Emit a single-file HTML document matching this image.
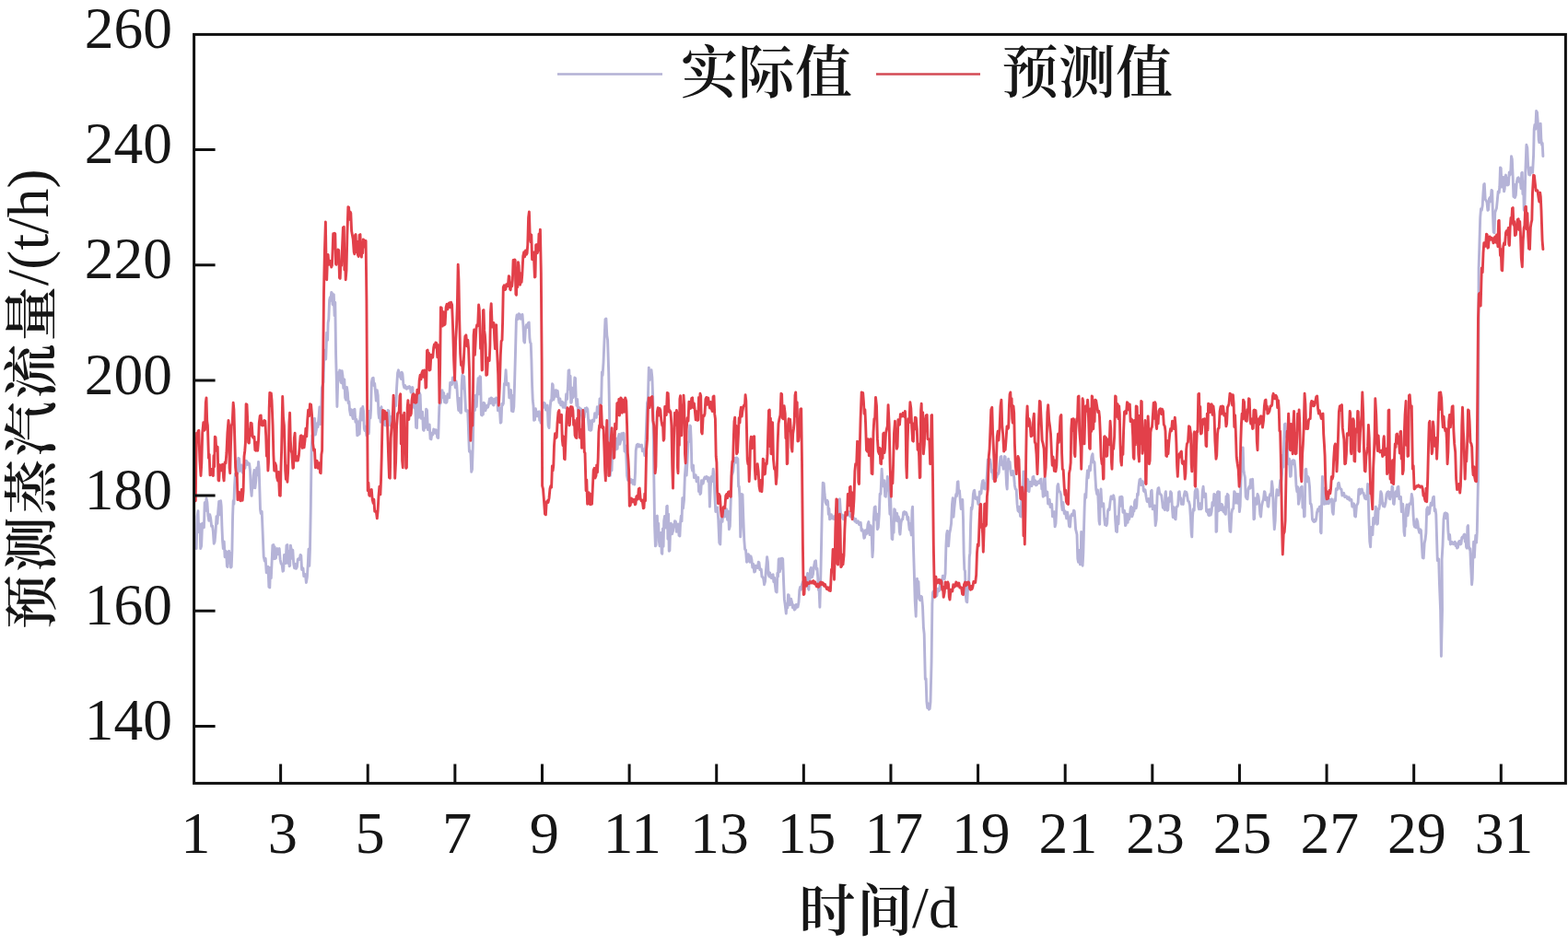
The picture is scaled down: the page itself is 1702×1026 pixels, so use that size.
<!DOCTYPE html>
<html lang="zh-CN">
<head>
<meta charset="utf-8">
<title>预测蒸汽流量</title>
<style>
html,body{margin:0;padding:0;background:#fff;}
body{width:1702px;height:1026px;overflow:hidden;font-family:"Liberation Serif", "Noto Serif CJK SC", serif;}
svg text{font-kerning:normal;}
</style>
</head>
<body>
<svg width="1702" height="1026" viewBox="0 0 1702 1026" style="display:block">
<rect x="0" y="0" width="1702" height="1026" fill="#fff"/>
<path d="M213.1,595.6 L214.1,560.6 L215.0,554.7 L215.7,577.7 L216.4,571.0 L217.1,569.2 L217.7,595.6 L218.6,592.9 L219.6,568.2 L220.5,571.0 L221.4,572.7 L222.2,545.7 L223.1,554.5 L224.0,541.0 L224.9,545.3 L225.9,560.1 L226.8,565.3 L227.8,558.8 L228.7,562.9 L229.6,571.3 L230.6,571.0 L231.4,577.6 L232.2,590.2 L233.1,587.9 L234.1,576.5 L235.0,560.6 L235.9,568.4 L236.8,554.7 L237.7,544.4 L238.7,558.8 L239.6,543.8 L240.2,549.3 L240.9,571.0 L241.6,587.6 L242.3,595.6 L243.2,587.9 L244.1,604.7 L245.0,598.3 L245.7,600.2 L246.4,614.7 L247.1,615.5 L247.9,598.9 L248.6,598.3 L249.2,611.0 L249.9,600.1 L250.5,616.1 L251.2,615.5 L251.9,598.3 L252.6,560.3 L253.2,543.8 L253.9,547.3 L254.6,527.4 L255.4,514.4 L256.2,520.2 L257.1,501.0 L257.9,514.1 L258.7,497.4 L259.6,498.0 L260.5,511.3 L261.4,508.3 L262.3,504.9 L263.2,513.1 L264.1,513.7 L265.0,506.3 L266.0,508.2 L266.9,500.1 L267.8,500.7 L268.7,504.4 L269.6,502.8 L270.6,503.5 L271.5,511.0 L272.3,529.6 L273.1,538.3 L273.8,526.9 L274.4,530.0 L275.1,516.5 L276.0,510.5 L276.9,529.8 L277.8,521.9 L278.7,508.0 L279.6,515.7 L280.5,501.5 L281.2,509.4 L281.9,532.8 L282.5,553.0 L283.2,557.4 L284.2,555.3 L285.2,579.2 L286.2,604.3 L287.3,609.3 L288.2,606.3 L289.2,621.7 L290.1,620.2 L291.0,615.3 L291.9,637.3 L292.8,637.9 L293.5,616.1 L294.3,627.6 L295.0,612.0 L295.9,592.1 L296.9,591.5 L297.5,606.7 L298.2,593.8 L298.8,606.5 L299.5,605.9 L300.3,596.7 L301.0,595.6 L301.7,601.9 L302.5,596.2 L303.2,595.6 L304.1,607.2 L305.1,612.0 L306.1,613.1 L307.0,620.2 L307.7,619.6 L308.5,602.5 L309.2,603.8 L310.1,611.6 L311.0,592.1 L311.9,591.5 L312.6,611.5 L313.4,598.3 L314.1,614.7 L314.7,614.1 L315.4,592.1 L316.0,595.6 L316.9,606.2 L317.8,597.2 L318.7,612.0 L319.6,616.8 L320.6,612.3 L321.5,617.4 L322.4,615.4 L323.3,607.2 L324.2,606.5 L325.1,607.5 L326.1,602.4 L326.8,603.0 L327.6,618.5 L328.3,617.4 L329.0,617.0 L329.8,625.5 L330.5,625.6 L331.4,623.5 L332.4,632.5 L333.4,626.5 L334.3,612.0 L335.0,596.1 L335.8,614.4 L336.5,595.6 L337.3,551.9 L338.1,489.2 L338.9,472.8 L339.8,480.2 L340.6,461.9 L341.5,454.3 L342.4,472.1 L343.3,467.3 L344.2,459.7 L345.1,463.5 L346.0,453.7 L346.9,441.9 L347.8,460.6 L348.7,448.2 L349.4,421.2 L350.1,418.3 L351.0,414.6 L351.9,380.7 L352.8,380.1 L353.7,390.0 L354.7,361.3 L355.6,369.2 L356.1,350.1 L356.8,346.6 L357.6,325.8 L358.3,322.8 L359.0,326.4 L359.7,317.4 L360.3,318.0 L361.0,330.4 L361.6,331.0 L362.3,319.6 L363.1,342.7 L363.8,328.3 L364.6,385.6 L365.2,407.8 L365.9,441.5 L367.0,404.7 L367.9,412.5 L368.7,402.0 L369.3,402.9 L370.0,415.0 L370.6,415.6 L371.2,402.6 L371.9,407.4 L372.8,421.4 L373.8,411.9 L374.7,432.0 L375.6,434.2 L376.5,420.4 L377.4,426.5 L378.1,437.6 L378.9,436.0 L379.6,445.6 L380.5,450.5 L381.4,444.7 L382.3,451.1 L383.2,454.7 L384.1,444.9 L385.0,444.3 L385.9,458.2 L386.9,455.3 L387.8,472.9 L388.6,472.3 L389.4,457.8 L390.2,471.3 L391.0,453.8 L391.9,443.8 L392.9,456.0 L393.8,441.5 L394.5,445.9 L395.3,465.1 L396.0,467.5 L396.9,463.2 L397.9,472.9 L398.7,472.3 L399.5,453.7 L400.4,470.7 L401.2,446.2 L402.0,453.8 L402.6,444.6 L403.3,415.6 L404.2,410.8 L405.2,410.2 L405.9,418.6 L406.7,416.4 L407.4,423.8 L408.3,435.1 L409.3,423.8 L410.2,429.3 L410.9,449.1 L411.5,453.8 L412.3,443.4 L413.1,458.2 L414.0,441.8 L414.8,457.2 L415.6,448.2 L416.5,446.7 L417.4,461.3 L418.3,461.9 L419.2,450.8 L420.2,456.9 L421.1,445.5 L422.0,446.1 L422.9,461.3 L423.8,461.9 L424.6,452.5 L425.4,461.3 L426.3,447.4 L427.1,461.3 L427.9,451.0 L428.8,432.1 L429.7,440.6 L430.6,420.9 L431.6,404.9 L432.5,401.8 L433.2,408.2 L434.0,404.6 L434.7,410.0 L435.4,411.5 L436.2,404.2 L436.9,405.9 L437.9,417.7 L438.8,420.9 L439.7,418.5 L440.6,421.7 L441.5,422.3 L442.4,420.2 L443.4,421.2 L444.3,419.6 L445.2,420.2 L446.1,426.0 L447.0,423.7 L447.9,420.6 L448.8,441.5 L449.7,442.8 L450.6,436.3 L451.6,464.0 L452.5,464.6 L453.4,433.0 L454.3,453.3 L455.2,426.4 L456.1,428.6 L457.0,454.3 L457.9,448.2 L458.6,447.2 L459.4,466.7 L460.1,467.3 L460.9,453.9 L461.8,464.3 L462.6,444.1 L463.5,445.3 L464.4,466.6 L465.3,461.9 L466.2,461.0 L467.1,476.3 L468.0,476.9 L468.9,470.1 L469.8,471.9 L470.7,466.0 L471.4,466.6 L472.2,470.3 L472.9,466.6 L473.7,467.3 L474.7,474.9 L475.7,475.5 L476.8,441.9 L477.8,434.6 L478.5,437.5 L479.3,424.3 L480.0,423.7 L480.8,431.5 L481.6,426.4 L482.5,436.7 L483.3,430.2 L484.1,437.3 L485.0,436.7 L485.9,427.9 L486.8,431.9 L487.7,431.8 L488.7,415.4 L489.6,415.5 L490.6,417.4 L491.5,410.0 L492.6,410.6 L493.6,415.5 L494.3,420.8 L495.1,414.0 L495.8,418.2 L496.8,434.6 L497.7,445.5 L498.6,432.5 L499.6,447.6 L500.5,448.2 L501.1,419.0 L501.8,407.3 L502.7,421.7 L503.7,408.7 L504.6,426.4 L505.6,446.2 L506.7,445.5 L507.7,445.9 L508.7,472.8 L509.4,490.3 L510.0,489.2 L510.9,492.3 L511.7,512.4 L512.5,509.7 L513.3,483.7 L514.4,434.6 L515.5,445.5 L516.4,429.1 L517.3,441.5 L518.2,423.7 L519.1,410.7 L520.0,427.9 L520.9,408.7 L521.6,409.3 L522.4,450.4 L523.1,451.0 L523.7,440.8 L524.4,450.0 L525.0,437.3 L525.9,437.9 L526.9,445.8 L527.8,442.8 L528.7,440.2 L529.6,442.2 L530.5,438.7 L531.4,432.9 L532.3,437.8 L533.2,431.9 L534.1,432.5 L535.0,439.4 L535.9,440.0 L536.8,433.2 L537.8,437.0 L538.7,431.9 L539.6,432.5 L540.5,445.9 L541.4,445.5 L542.3,442.8 L543.3,459.1 L544.0,458.5 L544.8,438.5 L545.5,440.0 L546.4,438.1 L547.3,416.7 L548.2,415.5 L549.1,401.8 L550.0,417.9 L551.0,418.2 L551.9,416.3 L552.8,431.8 L553.7,431.9 L554.5,423.4 L555.4,446.3 L556.2,429.4 L557.0,446.9 L557.8,441.6 L558.6,415.5 L559.7,374.7 L560.4,347.0 L561.1,341.9 L562.2,346.6 L563.2,340.6 L564.1,341.2 L565.1,346.3 L566.0,344.7 L567.0,341.5 L567.9,352.8 L568.7,370.6 L569.5,371.9 L570.5,356.6 L571.4,352.8 L572.3,355.4 L573.3,350.7 L574.2,350.1 L574.9,366.8 L575.5,371.9 L576.2,372.7 L576.9,391.0 L577.6,418.1 L578.3,434.7 L579.0,440.6 L579.6,456.4 L580.5,455.8 L581.4,443.8 L582.3,448.2 L583.2,451.9 L584.2,447.5 L585.1,446.9 L585.7,456.3 L586.4,451.6 L587.0,459.1 L587.7,457.0 L588.5,442.5 L589.2,442.8 L589.9,442.1 L590.5,437.3 L591.4,437.9 L592.4,445.1 L593.3,441.4 L594.2,440.0 L595.1,462.0 L596.0,464.6 L597.0,444.3 L597.9,434.6 L598.7,435.0 L599.5,416.8 L600.2,418.0 L600.8,434.0 L601.5,431.9 L602.5,424.0 L603.6,423.7 L604.4,430.6 L605.3,424.4 L606.1,431.9 L607.0,437.2 L607.9,433.0 L608.7,439.9 L609.6,440.0 L610.4,436.1 L611.2,442.2 L612.1,437.6 L612.9,442.2 L613.7,442.8 L614.6,428.0 L615.6,433.4 L616.5,418.2 L617.1,402.4 L617.8,401.8 L618.4,422.6 L619.1,408.2 L619.7,437.3 L620.4,436.7 L621.2,421.2 L621.9,431.9 L622.8,429.0 L623.8,410.0 L624.5,410.6 L625.2,431.9 L625.9,440.3 L626.7,433.5 L627.4,445.5 L628.2,450.4 L629.0,442.8 L629.9,450.4 L630.7,443.9 L631.5,451.0 L632.4,456.5 L633.3,445.6 L634.2,453.1 L635.1,443.4 L636.0,446.7 L636.9,442.8 L637.8,444.4 L638.8,459.1 L639.5,466.7 L640.3,456.6 L641.0,467.3 L641.9,466.7 L642.9,456.3 L643.8,456.4 L644.7,457.4 L645.6,448.8 L646.5,451.0 L647.4,453.3 L648.3,441.7 L649.2,442.8 L650.1,449.4 L651.0,432.9 L651.9,434.6 L652.6,438.0 L653.4,403.9 L654.1,407.3 L655.0,393.6 L656.0,369.2 L657.0,346.6 L657.9,346.0 L658.8,364.1 L659.6,369.2 L660.7,404.7 L661.5,445.6 L662.3,516.5 L663.1,504.1 L664.0,510.8 L664.8,488.3 L665.6,494.6 L666.5,495.5 L667.4,478.2 L668.3,488.1 L669.2,476.1 L670.1,487.2 L671.0,475.5 L671.9,471.5 L672.9,482.3 L673.8,478.3 L674.7,470.7 L675.6,477.1 L676.5,470.1 L677.2,470.7 L678.0,490.1 L678.7,483.7 L679.7,493.5 L680.6,516.5 L681.5,521.3 L682.4,514.2 L683.3,521.9 L684.2,524.0 L685.2,520.6 L686.1,521.9 L687.0,525.4 L687.9,521.2 L688.8,526.0 L689.5,513.5 L690.2,489.2 L691.2,482.9 L692.3,482.3 L693.1,485.0 L694.0,482.9 L694.8,484.8 L695.6,483.7 L696.5,483.1 L697.4,489.8 L698.3,489.2 L699.0,487.8 L699.7,494.6 L700.7,484.3 L701.6,461.9 L702.5,437.3 L703.3,434.6 L704.3,399.1 L705.1,412.5 L706.0,404.6 L707.0,401.7 L707.9,410.0 L708.7,431.9 L709.8,516.5 L710.6,571.0 L711.4,592.9 L712.1,591.8 L712.7,560.7 L713.4,560.1 L714.0,582.4 L714.7,568.1 L715.3,587.4 L716.1,592.9 L716.9,582.0 L717.5,578.4 L718.2,600.5 L718.8,601.1 L719.4,574.0 L720.1,593.2 L720.7,565.6 L721.5,560.4 L722.4,568.3 L723.0,573.0 L723.7,549.8 L724.3,549.2 L724.9,585.3 L725.6,558.2 L726.2,598.3 L726.9,597.7 L727.7,572.3 L728.4,568.3 L729.5,579.9 L730.5,576.5 L731.2,569.4 L731.8,572.1 L732.5,565.6 L733.4,566.2 L734.3,577.4 L735.2,573.8 L736.1,569.0 L737.0,581.4 L737.9,582.0 L738.6,566.8 L739.3,560.1 L740.0,565.9 L740.8,540.6 L741.5,551.9 L742.5,542.9 L743.4,516.5 L744.3,504.7 L745.2,516.1 L746.1,500.1 L747.0,480.1 L747.9,479.7 L748.8,461.9 L749.5,462.5 L750.2,478.3 L750.9,507.6 L751.6,511.0 L752.5,505.2 L753.4,518.6 L754.3,517.8 L755.2,515.8 L756.1,522.9 L757.0,519.2 L757.8,518.4 L758.5,533.6 L759.2,527.9 L760.0,536.5 L760.7,535.5 L761.5,521.7 L762.2,525.5 L763.2,525.0 L764.1,520.1 L765.0,518.0 L765.9,519.7 L766.8,517.4 L767.7,518.0 L768.7,522.7 L769.6,518.7 L770.4,550.1 L771.3,528.1 L772.3,517.4 L773.2,522.5 L774.2,509.2 L775.0,515.2 L775.8,536.5 L776.8,555.5 L777.7,552.8 L778.7,550.9 L779.7,563.8 L780.8,589.2 L781.8,591.0 L782.5,567.8 L783.2,561.0 L784.1,566.4 L785.0,553.6 L785.9,555.6 L786.8,561.1 L787.8,553.4 L788.7,552.8 L789.6,564.3 L790.5,555.3 L791.4,574.7 L792.3,571.3 L793.3,541.9 L794.1,516.2 L794.9,514.6 L795.8,511.7 L796.8,501.0 L797.7,497.5 L798.7,502.0 L799.6,496.9 L800.2,497.5 L800.9,498.3 L801.6,528.3 L802.3,528.3 L803.0,540.8 L803.7,582.9 L804.4,571.2 L805.0,536.5 L806.0,537.1 L806.9,563.8 L807.8,586.3 L808.6,596.5 L809.5,597.0 L810.5,610.2 L811.4,609.6 L812.3,601.8 L813.2,603.3 L814.1,610.2 L815.0,603.9 L815.9,607.4 L816.8,616.0 L817.8,612.5 L818.7,621.1 L819.6,620.5 L820.5,614.1 L821.4,615.6 L822.3,616.5 L823.3,610.2 L824.0,610.8 L824.8,618.5 L825.5,618.3 L826.2,618.0 L827.0,626.1 L827.7,626.5 L828.7,628.2 L829.6,634.7 L830.5,631.3 L831.5,618.3 L832.6,604.7 L833.4,610.0 L834.2,623.8 L834.9,625.9 L835.7,621.9 L836.4,626.5 L837.3,627.7 L838.2,624.4 L839.1,623.8 L839.8,631.7 L840.6,627.2 L841.3,634.7 L842.2,642.3 L843.2,642.9 L843.9,622.3 L844.5,626.0 L845.2,607.4 L845.7,606.7 L846.3,620.9 L846.8,618.3 L847.4,606.7 L848.1,617.0 L848.7,606.1 L849.7,606.7 L850.6,632.0 L851.4,650.9 L852.2,656.6 L853.3,666.1 L854.0,655.5 L854.8,660.0 L855.5,645.6 L856.2,646.2 L857.0,656.8 L857.7,656.6 L858.7,650.3 L859.6,653.8 L860.5,659.7 L861.4,656.8 L862.3,662.0 L863.2,661.4 L864.2,656.4 L865.1,659.3 L866.0,658.9 L867.0,653.8 L867.8,640.9 L868.6,637.4 L869.5,640.2 L870.5,634.7 L871.4,631.7 L872.4,634.3 L873.3,632.0 L874.2,627.1 L875.1,632.0 L876.0,626.5 L876.6,622.5 L877.3,638.9 L877.9,640.2 L878.4,626.7 L879.0,631.3 L879.5,618.3 L880.5,616.2 L881.5,626.5 L882.5,623.4 L883.4,615.6 L884.5,609.4 L885.5,608.8 L886.2,618.1 L887.0,617.2 L887.7,626.5 L888.4,640.5 L889.1,640.2 L889.9,659.3 L891.0,618.3 L892.1,563.8 L893.2,524.2 L894.2,524.8 L895.1,536.5 L896.0,545.3 L897.0,547.4 L897.8,543.2 L898.6,544.7 L899.3,558.4 L899.9,552.3 L900.6,563.8 L901.5,563.2 L902.4,558.7 L903.3,562.4 L904.2,563.2 L905.1,560.7 L906.0,563.8 L906.9,563.2 L907.8,551.6 L908.7,552.8 L909.6,557.1 L910.6,542.5 L911.5,541.9 L912.5,557.7 L913.4,561.0 L914.1,558.8 L914.9,563.2 L915.6,563.8 L916.5,559.8 L917.4,562.3 L918.3,558.3 L919.2,556.2 L920.1,559.3 L921.0,555.6 L921.9,556.2 L922.9,560.9 L923.8,561.0 L924.6,559.8 L925.4,563.2 L926.2,561.5 L927.0,563.8 L927.9,566.0 L928.8,563.4 L929.7,567.5 L930.6,566.5 L931.5,565.9 L932.4,569.5 L933.3,569.2 L934.2,567.2 L935.1,576.0 L936.0,574.7 L937.0,577.5 L937.9,584.2 L938.6,583.6 L939.4,575.7 L940.1,580.1 L941.0,579.1 L942.0,569.1 L942.9,566.5 L944.0,580.6 L945.0,570.6 L946.0,576.7 L947.0,604.7 L947.6,597.0 L948.3,563.8 L949.2,550.7 L950.2,550.1 L950.9,564.4 L951.7,558.0 L952.4,574.7 L953.3,572.7 L954.3,558.3 L955.1,536.3 L956.0,536.5 L957.1,509.2 L958.2,526.8 L959.2,528.3 L959.9,521.6 L960.7,538.6 L961.4,539.2 L962.0,526.0 L962.7,532.3 L963.3,517.4 L964.2,525.0 L965.2,541.9 L965.9,558.2 L966.7,541.5 L967.4,563.8 L968.1,585.0 L968.8,585.6 L969.4,567.7 L970.1,578.2 L970.7,552.8 L971.4,553.4 L972.2,565.2 L972.9,563.8 L973.6,557.1 L974.4,565.8 L975.1,561.0 L975.7,563.2 L976.4,577.2 L977.0,580.1 L978.0,567.6 L978.9,563.8 L979.8,563.8 L980.7,556.2 L981.6,555.6 L982.5,558.2 L983.4,556.2 L984.3,558.3 L985.0,564.2 L985.8,561.5 L986.5,569.2 L987.2,575.2 L988.0,568.6 L988.7,577.4 L989.3,580.9 L990.0,554.3 L990.6,550.1 L991.4,591.0 L992.2,617.3 L993.2,652.3 L994.2,669.2 L994.9,640.6 L995.5,628.2 L996.2,645.3 L997.0,631.5 L997.7,650.1 L998.7,651.7 L999.6,647.3 L1000.5,647.9 L1001.5,658.3 L1002.4,680.8 L1003.2,688.3 L1004.3,737.4 L1005.1,736.8 L1005.9,762.0 L1006.7,768.5 L1007.6,764.0 L1008.4,770.2 L1009.2,769.6 L1010.0,762.0 L1011.1,718.3 L1011.9,655.5 L1012.6,643.2 L1013.3,641.9 L1014.2,646.4 L1015.1,643.2 L1016.0,647.3 L1016.9,646.7 L1017.8,639.2 L1018.7,641.9 L1019.6,641.3 L1020.6,631.7 L1021.5,631.0 L1022.4,633.0 L1023.3,625.3 L1024.2,628.2 L1025.2,628.5 L1026.1,622.8 L1026.9,592.8 L1027.6,579.7 L1028.3,576.4 L1028.9,592.2 L1029.6,592.8 L1030.6,579.4 L1031.6,574.7 L1032.5,568.8 L1033.5,547.4 L1034.2,540.8 L1035.0,561.2 L1035.7,552.8 L1036.8,542.2 L1037.8,536.5 L1038.5,538.6 L1039.3,523.4 L1040.0,522.8 L1040.7,535.5 L1041.5,532.6 L1042.2,541.9 L1043.2,552.6 L1044.1,547.4 L1044.8,542.5 L1045.5,563.8 L1046.2,601.6 L1046.8,618.3 L1047.5,620.1 L1048.2,645.6 L1049.0,653.2 L1049.8,653.8 L1050.7,635.1 L1051.5,640.2 L1052.3,604.7 L1052.9,600.4 L1053.6,569.2 L1054.3,551.1 L1055.0,552.8 L1055.7,547.8 L1056.4,536.5 L1057.1,533.0 L1057.7,532.4 L1058.7,541.1 L1059.7,541.9 L1060.8,539.9 L1061.8,547.4 L1062.5,546.8 L1063.3,533.9 L1064.0,536.5 L1065.0,535.4 L1065.9,525.5 L1066.6,522.1 L1067.3,521.5 L1068.0,530.4 L1068.8,524.6 L1069.5,531.0 L1070.5,527.4 L1071.4,514.6 L1072.3,498.9 L1073.3,498.3 L1074.0,503.1 L1074.8,498.9 L1075.5,503.7 L1076.4,512.5 L1077.3,510.6 L1078.2,520.1 L1079.1,519.5 L1080.0,513.5 L1080.9,517.4 L1081.8,518.2 L1082.8,514.1 L1083.7,514.6 L1084.3,512.5 L1085.0,503.7 L1086.0,496.1 L1086.9,495.5 L1087.6,505.0 L1088.4,501.5 L1089.1,509.2 L1089.8,506.1 L1090.5,495.5 L1091.2,496.1 L1091.9,511.9 L1092.6,526.6 L1093.2,531.0 L1093.9,507.5 L1094.6,498.3 L1095.3,508.5 L1096.1,501.4 L1096.8,509.2 L1097.8,515.8 L1098.7,514.6 L1099.7,511.3 L1100.6,517.4 L1101.4,526.7 L1102.2,531.0 L1103.2,531.5 L1104.1,547.4 L1105.0,554.5 L1106.0,555.6 L1106.7,550.2 L1107.5,560.4 L1108.2,561.0 L1108.9,538.3 L1109.6,536.5 L1110.3,538.9 L1111.0,511.9 L1111.7,512.5 L1112.4,529.9 L1113.1,531.0 L1113.8,521.9 L1114.4,532.9 L1115.1,520.1 L1115.7,520.7 L1116.4,532.3 L1117.0,533.7 L1118.0,523.1 L1119.1,525.5 L1120.0,527.7 L1121.0,518.0 L1121.9,517.4 L1122.8,525.5 L1123.7,521.7 L1124.6,526.9 L1125.5,526.3 L1126.4,523.0 L1127.3,522.8 L1128.2,524.5 L1129.2,520.7 L1130.1,520.1 L1130.8,531.0 L1131.5,528.4 L1132.2,539.2 L1132.9,538.6 L1133.5,519.3 L1134.2,518.7 L1135.2,537.8 L1136.1,536.5 L1136.8,534.1 L1137.6,547.0 L1138.3,544.7 L1139.2,542.4 L1140.1,550.5 L1141.0,550.1 L1141.7,547.4 L1142.5,560.9 L1143.2,558.3 L1144.2,555.7 L1145.1,571.9 L1146.0,568.3 L1147.0,547.4 L1147.8,527.8 L1148.6,525.5 L1149.5,533.2 L1150.5,533.7 L1151.5,536.6 L1152.4,547.4 L1153.1,553.5 L1153.9,545.5 L1154.6,552.8 L1155.3,557.6 L1156.1,554.8 L1156.8,558.3 L1157.7,562.9 L1158.6,556.1 L1159.5,561.0 L1160.5,571.3 L1161.5,571.9 L1162.5,559.9 L1163.4,558.3 L1164.5,559.6 L1165.5,554.2 L1166.2,554.8 L1166.9,563.8 L1167.6,574.7 L1168.3,577.4 L1169.0,580.3 L1169.8,606.4 L1170.5,610.2 L1171.5,597.4 L1172.4,612.9 L1173.1,606.5 L1173.7,577.4 L1174.4,589.0 L1175.1,614.2 L1175.8,600.9 L1176.5,574.7 L1177.2,550.6 L1177.8,536.5 L1178.8,540.4 L1179.7,520.1 L1180.4,510.9 L1181.2,518.9 L1181.9,511.9 L1182.6,506.3 L1183.4,510.8 L1184.1,503.7 L1185.0,495.5 L1186.0,492.8 L1186.7,502.0 L1187.4,501.0 L1188.1,502.3 L1188.7,514.6 L1189.7,531.2 L1190.7,536.5 L1191.5,532.0 L1192.3,547.4 L1193.0,565.6 L1193.7,569.2 L1194.3,541.9 L1195.0,531.0 L1196.0,549.9 L1196.9,547.4 L1197.8,546.7 L1198.8,563.8 L1199.5,569.9 L1200.3,563.4 L1201.0,570.6 L1201.7,568.4 L1202.5,554.8 L1203.2,552.8 L1204.2,553.4 L1205.1,544.7 L1206.0,538.9 L1207.0,539.2 L1207.8,541.8 L1208.7,537.8 L1209.7,543.1 L1210.6,563.8 L1211.5,576.8 L1212.5,577.4 L1213.2,560.7 L1214.0,568.9 L1214.7,552.8 L1215.6,539.8 L1216.5,549.2 L1217.4,539.2 L1218.1,539.8 L1218.9,556.2 L1219.6,555.6 L1220.5,554.4 L1221.5,570.6 L1222.1,570.0 L1222.8,557.9 L1223.4,558.3 L1224.1,567.4 L1224.9,558.8 L1225.6,563.8 L1226.3,561.4 L1227.1,552.0 L1227.8,550.1 L1228.8,560.7 L1229.7,558.3 L1230.3,551.3 L1231.0,554.8 L1231.6,544.7 L1232.3,542.8 L1233.1,551.9 L1233.8,548.7 L1234.5,536.3 L1235.3,537.5 L1236.0,528.3 L1237.0,520.7 L1237.9,520.1 L1238.8,526.5 L1239.8,522.8 L1240.5,522.8 L1241.3,532.6 L1242.0,533.7 L1243.0,531.7 L1244.1,539.2 L1245.1,544.6 L1246.1,544.7 L1247.0,541.6 L1248.0,550.1 L1248.7,549.7 L1249.5,533.0 L1250.2,532.4 L1251.2,552.9 L1252.3,552.8 L1253.2,548.9 L1254.2,570.6 L1255.2,564.3 L1256.2,536.5 L1257.0,530.2 L1257.8,529.6 L1258.8,536.1 L1259.7,536.5 L1260.7,537.8 L1261.6,544.7 L1262.3,551.2 L1263.1,546.9 L1263.8,552.8 L1264.3,553.6 L1264.9,535.6 L1265.4,533.7 L1266.0,546.8 L1266.5,543.8 L1267.1,554.2 L1267.8,553.6 L1268.6,540.8 L1269.3,544.7 L1269.9,542.5 L1270.6,533.7 L1271.5,535.2 L1272.5,552.8 L1273.2,561.6 L1274.0,550.7 L1274.7,558.3 L1275.4,563.2 L1276.1,563.8 L1277.0,550.4 L1278.0,550.1 L1278.7,547.9 L1279.5,534.3 L1280.2,533.7 L1280.9,541.5 L1281.7,540.6 L1282.4,547.4 L1283.3,546.8 L1284.3,547.4 L1285.2,537.8 L1286.2,533.7 L1286.9,537.8 L1287.7,534.3 L1288.4,536.5 L1289.5,543.9 L1290.5,544.7 L1291.5,548.9 L1292.5,563.8 L1293.2,579.2 L1293.8,582.9 L1294.5,560.7 L1295.2,552.8 L1296.2,554.1 L1297.1,533.7 L1297.8,531.6 L1298.6,540.2 L1299.3,531.0 L1300.0,533.1 L1300.8,549.9 L1301.5,552.8 L1302.5,546.8 L1303.4,552.8 L1304.3,552.1 L1305.2,533.7 L1306.1,528.3 L1307.0,539.5 L1308.0,536.5 L1308.7,536.1 L1309.5,554.9 L1310.2,555.6 L1310.9,553.5 L1311.7,559.1 L1312.4,559.7 L1313.3,553.0 L1314.2,559.1 L1315.1,555.6 L1316.0,545.4 L1316.9,549.0 L1317.8,536.5 L1318.8,537.1 L1319.7,547.4 L1320.0,577.4 L1320.7,576.8 L1321.5,534.3 L1322.2,533.7 L1322.8,554.7 L1323.5,534.3 L1324.1,552.8 L1325.0,553.5 L1326.0,547.4 L1326.7,548.0 L1327.5,554.5 L1328.2,555.6 L1328.9,550.9 L1329.7,557.7 L1330.4,558.3 L1331.0,539.0 L1331.7,550.3 L1332.3,536.5 L1333.2,537.7 L1334.2,563.8 L1335.0,576.8 L1335.8,577.4 L1336.8,557.6 L1337.7,552.8 L1338.7,552.3 L1339.7,533.7 L1340.4,534.3 L1341.1,546.1 L1341.8,544.7 L1342.5,536.5 L1343.3,546.4 L1344.0,536.5 L1344.7,538.1 L1345.4,555.6 L1346.1,549.6 L1346.7,531.0 L1347.4,508.5 L1348.1,509.2 L1349.2,486.0 L1349.9,510.5 L1350.6,514.6 L1351.4,518.2 L1352.2,539.2 L1353.2,541.3 L1354.1,541.9 L1355.0,530.5 L1356.0,528.3 L1356.7,530.3 L1357.5,520.8 L1358.2,522.8 L1358.9,529.3 L1359.6,520.1 L1360.2,533.4 L1360.9,563.8 L1361.6,563.2 L1362.4,540.9 L1363.1,547.4 L1364.0,547.4 L1365.0,536.5 L1366.0,539.1 L1366.9,547.4 L1367.8,558.5 L1368.6,561.0 L1369.5,549.6 L1370.5,544.7 L1371.5,542.0 L1372.4,533.7 L1373.1,534.3 L1373.9,542.8 L1374.6,541.9 L1375.3,540.3 L1376.1,549.5 L1376.8,550.1 L1377.8,539.5 L1378.7,536.5 L1379.7,537.8 L1380.6,522.8 L1381.4,530.1 L1382.2,552.8 L1383.3,574.7 L1384.2,565.4 L1385.0,541.9 L1386.0,531.6 L1386.9,533.7 L1387.8,537.7 L1388.8,531.0 L1389.7,521.4 L1390.6,523.8 L1391.5,514.6 L1392.2,494.3 L1393.0,507.1 L1393.7,481.9 L1394.4,460.6 L1395.1,460.0 L1395.8,474.0 L1396.4,471.0 L1397.1,468.8 L1397.9,503.2 L1398.6,503.7 L1399.5,498.2 L1400.5,517.4 L1401.2,516.8 L1401.9,503.7 L1402.6,500.2 L1403.4,503.8 L1404.1,499.6 L1405.0,500.2 L1406.0,509.2 L1407.0,527.9 L1407.9,533.7 L1408.7,528.7 L1409.5,547.4 L1410.5,541.9 L1411.4,531.0 L1412.3,528.9 L1413.3,528.3 L1414.0,551.2 L1414.8,540.5 L1415.5,561.0 L1416.2,560.4 L1417.0,509.8 L1417.7,509.2 L1418.7,522.9 L1419.6,517.4 L1420.5,519.0 L1421.5,528.3 L1422.3,547.0 L1423.2,547.4 L1423.8,552.0 L1424.5,563.8 L1425.5,565.9 L1426.4,566.5 L1427.1,564.2 L1427.9,565.9 L1428.6,563.8 L1429.5,556.4 L1430.5,552.8 L1431.5,554.7 L1432.4,550.1 L1433.0,550.0 L1433.5,577.6 L1434.1,578.8 L1434.8,543.3 L1435.4,517.4 L1436.1,537.0 L1436.7,529.7 L1437.4,547.4 L1438.2,546.8 L1439.0,539.6 L1439.9,546.8 L1440.7,540.2 L1441.5,541.9 L1442.3,546.8 L1443.1,542.5 L1443.9,544.3 L1444.7,542.5 L1445.5,541.9 L1446.3,555.5 L1447.2,558.3 L1448.0,545.3 L1448.8,541.9 L1449.5,543.7 L1450.3,530.8 L1451.0,531.0 L1451.7,531.5 L1452.5,524.8 L1453.2,524.2 L1454.2,529.1 L1455.1,531.0 L1456.0,531.2 L1456.9,538.1 L1457.8,536.5 L1458.7,535.3 L1459.7,539.7 L1460.6,539.2 L1461.5,538.8 L1462.4,541.3 L1463.3,541.9 L1464.2,539.8 L1465.1,543.2 L1466.0,541.9 L1466.9,542.5 L1467.8,550.1 L1468.7,550.1 L1469.6,546.8 L1470.6,560.4 L1471.5,561.0 L1472.5,548.7 L1473.4,547.4 L1474.1,545.7 L1474.9,531.6 L1475.6,531.0 L1476.5,536.2 L1477.4,531.6 L1478.3,531.0 L1479.2,535.2 L1480.1,535.4 L1481.0,539.2 L1481.7,541.3 L1482.5,538.5 L1483.2,541.9 L1483.9,538.4 L1484.6,525.5 L1485.2,536.8 L1485.9,563.8 L1486.8,588.1 L1487.6,593.8 L1488.4,572.4 L1489.2,574.7 L1489.9,580.6 L1490.7,562.5 L1491.4,569.2 L1492.3,565.1 L1493.3,550.1 L1494.0,553.0 L1494.7,569.2 L1495.4,568.6 L1496.2,552.4 L1496.9,552.8 L1497.8,546.9 L1498.8,533.7 L1499.8,536.5 L1500.7,547.4 L1501.4,549.5 L1502.2,546.8 L1502.9,550.1 L1504.0,546.2 L1505.0,536.5 L1506.0,534.3 L1507.0,533.7 L1508.0,541.3 L1508.9,541.9 L1509.6,534.2 L1510.3,539.1 L1511.0,528.3 L1511.7,528.9 L1512.5,546.8 L1513.2,547.4 L1514.2,537.0 L1515.1,533.7 L1516.0,538.9 L1517.0,528.9 L1517.9,528.3 L1518.8,541.7 L1519.8,541.9 L1520.5,539.4 L1521.3,555.6 L1522.0,552.8 L1522.7,547.2 L1523.3,558.3 L1524.0,577.4 L1524.7,581.5 L1525.2,561.3 L1525.8,571.4 L1526.3,552.8 L1527.1,548.0 L1528.0,559.9 L1528.8,555.6 L1529.8,546.9 L1530.7,547.4 L1531.5,547.2 L1532.3,536.5 L1533.2,541.3 L1534.2,561.0 L1534.9,570.0 L1535.6,571.9 L1536.3,566.8 L1537.1,572.9 L1537.8,563.8 L1538.8,566.8 L1539.7,574.7 L1540.7,578.3 L1541.6,574.7 L1542.4,575.6 L1543.3,591.0 L1544.2,605.5 L1545.2,606.1 L1546.2,589.6 L1547.1,585.6 L1547.9,578.5 L1548.7,552.8 L1549.7,550.7 L1550.6,558.3 L1551.5,557.4 L1552.5,550.1 L1553.2,546.1 L1554.0,548.7 L1554.7,544.7 L1555.6,539.8 L1556.4,539.2 L1557.2,554.7 L1558.0,552.8 L1558.8,558.6 L1559.6,585.6 L1560.3,608.6 L1561.0,607.4 L1561.7,607.0 L1562.4,632.0 L1563.6,662.0 L1564.4,712.5 L1565.5,662.0 L1565.1,607.4 L1566.0,592.1 L1567.0,563.8 L1568.0,557.5 L1568.9,556.9 L1569.6,562.7 L1570.4,557.5 L1571.1,558.3 L1571.9,576.1 L1572.7,585.6 L1573.6,580.4 L1574.4,591.0 L1575.1,590.4 L1575.9,588.4 L1576.6,589.7 L1577.5,590.7 L1578.4,588.9 L1579.3,588.3 L1580.0,592.6 L1580.8,590.0 L1581.5,595.1 L1582.5,594.3 L1583.4,588.3 L1584.3,587.4 L1585.3,591.0 L1586.0,590.4 L1586.8,583.5 L1587.5,582.9 L1588.2,583.9 L1589.0,580.7 L1589.7,580.1 L1590.3,588.1 L1591.0,584.6 L1591.6,593.8 L1592.2,595.1 L1592.9,571.8 L1593.5,570.6 L1594.3,592.9 L1595.1,596.5 L1595.8,595.6 L1596.5,612.9 L1597.6,634.7 L1598.2,628.6 L1598.9,602.0 L1599.6,588.2 L1600.4,605.1 L1601.1,591.0 L1601.8,581.3 L1602.6,589.1 L1603.3,577.4 L1604.4,522.8 L1605.1,291.0 L1605.6,274.7 L1606.7,236.5 L1607.5,226.6 L1608.3,228.3 L1609.2,223.3 L1610.0,209.2 L1610.7,200.2 L1611.3,199.6 L1612.2,216.5 L1613.0,217.4 L1614.0,219.8 L1614.9,228.3 L1615.6,227.7 L1616.4,216.0 L1617.1,214.6 L1618.0,218.9 L1619.0,206.4 L1619.7,207.0 L1620.3,228.3 L1621.2,252.2 L1622.0,252.8 L1622.8,230.7 L1623.6,228.3 L1624.4,226.3 L1625.3,217.4 L1626.2,207.9 L1627.2,209.2 L1627.8,202.5 L1628.5,181.9 L1629.2,182.5 L1630.0,203.1 L1630.7,195.5 L1631.7,192.4 L1632.6,207.8 L1633.2,205.2 L1633.9,192.3 L1634.5,190.1 L1635.2,200.7 L1636.0,193.3 L1636.7,201.0 L1637.4,200.4 L1638.2,187.3 L1638.9,190.1 L1639.7,188.5 L1640.5,169.6 L1641.3,172.9 L1642.2,192.8 L1642.9,213.5 L1643.7,200.1 L1644.4,214.6 L1645.3,212.1 L1646.3,198.3 L1647.2,193.4 L1648.2,192.8 L1648.9,197.2 L1649.7,194.4 L1650.4,198.3 L1651.0,204.7 L1651.7,187.9 L1652.3,187.3 L1652.9,210.6 L1653.6,196.9 L1654.2,228.3 L1655.0,221.6 L1655.8,187.3 L1656.9,157.3 L1657.8,160.3 L1658.6,179.1 L1659.7,189.5 L1660.7,190.1 L1661.7,182.0 L1662.6,187.3 L1663.6,187.4 L1664.6,168.2 L1665.2,140.5 L1665.9,135.5 L1666.8,140.1 L1667.6,120.5 L1668.5,122.0 L1669.5,135.5 L1670.2,151.8 L1670.8,154.6 L1671.5,137.3 L1672.2,134.1 L1672.9,151.7 L1673.6,157.3 L1674.2,155.3 L1674.9,169.6" fill="none" stroke="#b5b3d7" stroke-width="2.9" stroke-linejoin="round" stroke-linecap="round"/>
<path d="M212.3,543.8 L212.9,497.5 L213.6,470.1 L214.3,479.8 L215.1,467.9 L215.8,467.3 L216.9,500.1 L218.0,516.5 L218.8,502.9 L219.7,470.1 L220.8,458.6 L221.8,467.3 L222.5,466.5 L223.3,437.1 L224.0,431.9 L224.7,457.0 L225.4,461.9 L226.5,497.4 L227.2,493.4 L228.0,515.9 L228.7,513.7 L229.6,509.4 L230.5,515.9 L231.4,516.5 L232.0,494.7 L232.7,506.6 L233.3,474.2 L234.0,474.8 L234.8,489.3 L235.5,489.2 L236.2,485.3 L237.0,521.3 L237.7,521.9 L238.6,504.8 L239.6,505.5 L240.6,510.9 L241.5,504.2 L242.0,506.5 L242.6,518.8 L243.1,521.9 L244.1,502.0 L245.0,502.8 L245.9,491.7 L246.9,470.1 L248.0,456.4 L248.6,463.1 L249.1,508.0 L249.7,513.7 L250.5,482.9 L251.3,461.9 L252.2,459.2 L253.2,437.3 L253.9,444.3 L254.6,470.1 L255.6,507.0 L256.5,516.5 L257.2,513.6 L258.0,542.6 L258.7,538.3 L259.6,534.3 L260.5,543.2 L261.4,543.8 L262.3,531.4 L263.2,543.2 L264.1,532.8 L265.0,495.6 L265.8,489.2 L266.5,479.3 L267.1,438.7 L268.0,439.3 L268.8,459.1 L269.6,480.4 L270.4,481.0 L271.0,466.4 L271.7,472.9 L272.3,459.1 L273.2,459.7 L274.2,474.3 L275.1,475.5 L276.0,474.2 L276.9,488.6 L277.8,489.2 L278.8,480.1 L279.7,489.2 L280.5,479.2 L281.3,459.1 L282.2,451.6 L283.2,451.0 L283.9,461.3 L284.6,461.9 L285.3,457.8 L286.1,461.7 L286.8,456.4 L287.8,457.0 L288.7,472.8 L289.4,495.2 L290.2,483.1 L290.9,511.0 L291.5,501.3 L292.2,443.4 L292.8,426.4 L293.5,440.5 L294.3,427.0 L295.0,434.6 L296.1,461.9 L296.9,494.0 L297.7,511.0 L298.6,502.7 L299.6,505.5 L300.6,518.5 L301.5,521.9 L302.4,512.4 L303.4,537.7 L304.3,538.3 L305.0,507.9 L305.6,489.2 L306.7,430.5 L307.5,453.5 L308.4,461.9 L309.0,480.7 L309.7,511.0 L310.4,520.4 L311.2,506.0 L311.9,523.3 L312.6,512.8 L313.3,489.2 L314.0,458.1 L314.6,448.2 L315.3,478.1 L316.0,489.2 L316.9,492.1 L317.9,508.3 L318.6,507.7 L319.4,475.4 L320.1,470.1 L320.8,496.7 L321.5,500.1 L322.4,495.7 L323.4,500.1 L324.4,494.3 L325.5,481.0 L326.2,473.4 L326.9,472.8 L327.6,483.0 L328.3,486.4 L329.2,473.7 L330.1,485.8 L331.0,478.3 L331.9,465.3 L332.8,473.9 L333.7,456.4 L334.6,445.1 L335.6,451.6 L336.5,438.7 L337.6,439.3 L338.6,451.0 L339.6,480.8 L340.6,489.2 L341.5,487.9 L342.4,507.7 L343.3,500.1 L344.2,500.3 L345.1,508.3 L346.0,508.3 L346.7,502.6 L347.5,513.1 L348.2,513.7 L348.9,493.6 L349.6,489.2 L350.1,445.6 L350.8,386.9 L351.5,317.4 L352.4,273.6 L353.4,240.9 L354.0,283.2 L354.7,303.7 L355.4,282.8 L356.1,276.4 L357.0,287.4 L357.8,284.6 L358.8,283.4 L359.7,290.1 L360.4,288.0 L361.0,273.7 L361.7,253.8 L362.5,269.9 L363.2,253.2 L363.8,253.8 L364.5,286.7 L365.1,287.3 L365.7,275.3 L366.4,282.7 L367.0,271.0 L367.7,271.6 L368.5,301.7 L369.2,302.3 L369.9,284.6 L370.7,288.1 L371.4,271.0 L372.4,247.0 L373.3,246.4 L373.9,293.0 L374.6,272.1 L375.2,303.7 L376.0,294.0 L376.9,254.6 L377.9,224.6 L378.6,225.2 L379.4,238.3 L380.1,230.0 L380.8,231.4 L381.6,250.7 L382.3,254.6 L383.2,259.4 L384.2,273.7 L384.8,275.8 L385.5,255.2 L386.1,254.6 L386.8,273.5 L387.6,262.1 L388.3,276.4 L389.2,278.5 L390.1,255.2 L391.0,254.6 L391.7,274.6 L392.4,279.1 L393.0,268.3 L393.7,274.8 L394.3,260.0 L395.2,260.6 L396.2,268.0 L397.1,261.4 L397.9,325.5 L398.4,412.9 L399.2,532.8 L399.9,524.0 L400.7,537.7 L401.4,538.3 L402.4,532.1 L403.3,531.5 L404.2,542.5 L405.2,546.5 L405.9,542.3 L406.7,555.2 L407.4,554.7 L408.4,555.8 L409.3,562.9 L410.1,554.5 L411.0,538.3 L411.9,528.2 L412.9,536.9 L413.5,522.4 L414.2,497.4 L414.9,464.9 L415.6,445.5 L416.5,455.2 L417.4,446.1 L418.3,451.0 L419.0,454.6 L419.7,448.2 L420.6,462.9 L421.6,494.6 L422.5,518.6 L423.3,519.2 L424.2,475.4 L425.2,461.9 L426.1,457.2 L427.1,429.1 L427.9,462.1 L428.7,519.2 L429.6,501.5 L430.6,461.9 L431.6,448.9 L432.5,448.2 L433.2,446.4 L434.0,429.8 L434.7,427.8 L435.3,481.9 L436.0,450.7 L436.6,500.1 L437.3,507.7 L438.1,457.3 L438.8,448.2 L439.4,490.6 L440.1,469.1 L440.7,508.3 L441.4,507.7 L442.2,442.4 L442.9,434.6 L443.8,455.5 L444.7,440.1 L445.6,451.0 L446.3,449.1 L447.0,434.6 L447.9,428.4 L448.9,427.8 L449.6,436.7 L450.4,429.0 L451.1,437.3 L452.0,436.7 L452.9,423.3 L453.8,426.4 L454.5,426.8 L455.2,412.9 L456.1,407.1 L457.0,411.9 L457.9,404.7 L458.8,402.6 L459.7,409.3 L460.6,402.0 L461.3,402.9 L462.0,421.1 L462.7,420.5 L463.5,380.7 L464.2,380.1 L464.8,398.2 L465.5,383.3 L466.1,402.0 L467.0,401.4 L467.9,385.2 L468.8,388.3 L469.8,388.0 L470.7,377.4 L471.4,374.0 L472.2,377.1 L472.9,371.9 L473.8,372.5 L474.8,387.9 L475.7,374.7 L476.4,393.6 L477.0,437.4 L477.7,394.4 L478.4,333.7 L479.3,334.3 L480.3,354.1 L481.2,338.7 L482.2,352.8 L483.1,352.0 L484.1,333.7 L485.0,330.3 L485.9,335.7 L486.8,329.6 L487.7,328.9 L488.7,333.8 L489.6,328.3 L490.6,330.7 L491.5,352.8 L492.6,390.0 L493.6,412.9 L494.6,370.7 L495.6,352.8 L496.4,330.0 L497.2,287.3 L497.9,303.4 L498.6,341.9 L499.6,383.7 L500.5,396.5 L501.4,393.2 L502.4,404.7 L503.2,394.6 L504.0,377.4 L504.9,365.1 L505.9,363.8 L506.9,375.9 L507.8,369.2 L508.6,378.8 L509.5,402.0 L510.1,446.6 L510.8,478.4 L511.8,455.8 L512.8,462.0 L513.5,424.6 L514.1,363.8 L514.7,358.0 L515.4,385.3 L516.0,374.7 L516.9,357.0 L517.7,352.8 L518.7,353.6 L519.6,331.0 L520.2,335.1 L520.9,352.8 L521.6,378.5 L522.4,372.3 L523.1,402.0 L523.7,401.4 L524.4,337.1 L525.0,336.5 L525.7,358.9 L526.4,363.8 L527.1,374.7 L527.8,407.4 L528.7,406.8 L529.6,388.6 L530.5,388.3 L531.2,391.5 L531.9,374.7 L532.5,338.5 L533.2,329.6 L534.2,355.0 L535.1,352.8 L536.0,350.6 L536.8,369.2 L537.4,378.6 L538.1,353.4 L538.7,352.8 L539.4,378.3 L540.0,391.0 L540.7,406.1 L541.4,440.2 L542.3,420.5 L543.3,385.6 L544.1,370.5 L545.0,369.2 L545.6,349.6 L546.3,311.9 L547.2,309.8 L548.2,314.6 L548.9,314.0 L549.7,308.8 L550.4,309.2 L551.3,310.6 L552.3,299.6 L552.9,300.2 L553.6,314.0 L554.2,314.6 L554.9,307.0 L555.7,310.9 L556.4,303.7 L557.1,282.5 L557.9,294.2 L558.6,281.9 L559.2,282.5 L559.9,319.5 L560.5,320.1 L561.1,299.1 L561.8,311.6 L562.4,284.6 L563.1,288.0 L563.9,307.1 L564.6,309.2 L565.3,296.9 L566.1,306.4 L566.8,298.3 L567.8,278.1 L568.7,273.7 L569.6,278.8 L570.5,271.9 L571.4,276.4 L572.1,274.8 L572.8,265.5 L573.6,236.3 L574.4,230.0 L575.2,255.8 L576.1,262.8 L576.8,255.0 L577.6,281.7 L578.3,273.7 L579.3,274.0 L580.4,301.0 L581.0,300.4 L581.7,266.1 L582.3,265.5 L583.3,274.7 L584.3,271.0 L585.0,254.0 L585.7,262.9 L586.4,249.1 L587.3,295.5 L588.1,391.0 L588.6,527.4 L589.5,530.9 L590.5,543.8 L591.5,558.1 L592.4,558.8 L593.2,545.2 L594.1,543.8 L595.0,545.5 L596.0,541.0 L597.0,530.4 L597.9,527.4 L598.6,529.2 L599.4,505.9 L600.1,511.0 L600.8,505.4 L601.5,483.7 L602.5,470.8 L603.4,475.5 L604.2,474.7 L605.0,459.1 L606.0,447.5 L606.9,445.5 L607.8,458.6 L608.8,451.0 L609.5,450.3 L610.3,477.3 L611.0,483.7 L611.7,474.0 L612.5,498.1 L613.2,498.7 L614.3,470.1 L615.1,450.4 L615.9,442.8 L616.5,458.7 L617.2,444.2 L617.8,461.9 L618.4,461.3 L619.1,442.5 L619.7,441.4 L620.4,451.2 L621.2,442.0 L621.9,445.5 L622.6,461.4 L623.4,456.1 L624.1,472.8 L625.0,474.9 L626.0,475.5 L626.6,454.2 L627.3,462.2 L627.9,445.5 L628.6,446.1 L629.4,475.3 L630.1,470.1 L630.8,466.7 L631.5,486.4 L632.1,478.3 L632.8,445.5 L633.5,454.0 L634.3,490.8 L635.0,491.9 L636.1,532.8 L636.8,520.9 L637.6,547.2 L638.3,535.6 L639.2,534.9 L640.1,547.2 L641.0,547.8 L641.7,536.5 L642.5,547.2 L643.2,532.8 L644.2,510.5 L645.1,508.3 L646.0,519.0 L647.0,516.5 L647.7,504.9 L648.5,512.7 L649.2,497.4 L649.9,469.1 L650.6,461.9 L651.2,463.9 L651.9,440.0 L652.6,440.6 L653.4,461.3 L654.1,464.6 L655.0,463.6 L656.0,489.2 L656.7,510.9 L657.4,521.9 L658.1,475.9 L658.8,456.4 L659.4,489.1 L660.1,480.4 L660.7,516.5 L661.5,515.9 L662.3,500.1 L663.2,476.2 L664.2,464.6 L664.8,482.2 L665.5,475.6 L666.1,497.4 L666.8,496.8 L667.6,460.1 L668.3,461.9 L669.0,465.8 L669.8,437.9 L670.5,437.3 L671.1,450.5 L671.8,433.5 L672.4,451.0 L673.1,445.3 L673.8,431.9 L674.5,432.5 L675.3,448.2 L676.0,445.5 L676.9,434.3 L677.8,447.2 L678.7,431.9 L679.7,435.4 L680.6,461.9 L681.3,491.3 L682.0,500.1 L682.6,510.9 L683.3,549.2 L684.2,548.6 L685.2,541.0 L685.9,541.6 L686.7,544.9 L687.4,543.8 L688.3,542.4 L689.3,547.8 L690.0,547.2 L690.8,539.2 L691.5,538.3 L692.4,542.1 L693.3,530.7 L694.2,530.1 L695.2,541.6 L696.2,543.8 L697.2,543.0 L698.3,551.9 L699.0,551.3 L699.8,536.1 L700.5,543.8 L701.6,489.2 L702.5,477.4 L703.3,445.5 L704.2,432.0 L705.1,442.6 L706.0,434.6 L707.0,431.1 L707.9,430.5 L708.8,456.4 L709.8,461.9 L710.5,478.9 L711.2,513.7 L711.9,506.5 L712.5,472.8 L713.4,447.1 L714.2,442.8 L715.1,451.1 L716.0,443.4 L716.9,445.5 L717.8,456.6 L718.8,461.9 L719.5,459.7 L720.2,478.3 L720.9,476.4 L721.7,441.5 L722.4,445.5 L723.3,450.5 L724.3,426.4 L725.2,427.0 L726.1,447.2 L727.0,445.5 L728.0,447.7 L728.9,461.9 L729.7,505.3 L730.5,530.1 L731.5,475.7 L732.5,448.2 L733.5,461.2 L734.4,445.5 L734.9,448.0 L735.5,507.7 L736.0,513.7 L736.6,473.0 L737.3,483.5 L737.9,433.2 L738.5,429.7 L739.2,467.3 L739.8,472.8 L740.5,439.8 L741.3,450.6 L742.0,429.1 L742.7,439.7 L743.5,492.9 L744.2,502.8 L745.2,466.2 L746.1,453.7 L747.0,457.2 L747.9,436.1 L748.8,440.0 L749.7,443.4 L750.7,432.5 L751.6,431.9 L752.5,442.6 L753.4,438.0 L754.3,445.5 L755.2,455.8 L756.1,446.8 L757.0,456.4 L757.8,455.9 L758.5,431.5 L759.2,443.9 L760.0,427.3 L760.7,429.6 L761.5,469.3 L762.2,471.0 L763.2,451.1 L764.1,451.9 L765.0,449.5 L765.9,433.4 L766.8,431.4 L767.7,439.3 L768.7,432.0 L769.6,438.2 L770.5,443.1 L771.4,436.4 L772.3,443.7 L773.2,446.6 L774.1,430.6 L775.0,430.0 L775.7,449.4 L776.4,454.6 L777.2,495.5 L777.9,502.0 L778.6,533.7 L779.5,546.7 L780.5,536.5 L781.5,538.7 L782.4,552.8 L783.2,560.4 L784.0,561.0 L785.0,551.6 L785.9,550.1 L786.8,551.6 L787.8,538.1 L788.7,536.5 L789.6,540.7 L790.5,534.3 L791.4,533.7 L792.3,538.6 L793.3,539.2 L794.1,512.9 L794.9,501.0 L795.6,501.2 L796.3,476.4 L797.0,457.4 L797.7,453.2 L798.3,473.7 L799.0,462.1 L799.6,492.8 L800.5,491.1 L801.5,471.0 L802.2,453.6 L803.0,458.8 L803.7,446.4 L804.4,442.1 L805.2,452.1 L805.9,446.4 L806.8,441.7 L807.8,439.6 L808.5,439.8 L809.1,428.7 L809.8,435.1 L810.5,465.5 L811.2,499.0 L811.9,503.7 L812.5,498.2 L813.2,522.8 L813.9,506.8 L814.6,479.1 L815.3,474.3 L816.1,486.8 L816.8,476.4 L817.8,474.3 L818.7,473.7 L819.4,508.8 L820.0,520.1 L820.7,508.0 L821.5,514.5 L822.2,503.7 L823.2,511.9 L824.1,528.3 L825.0,533.1 L826.0,521.4 L826.9,533.7 L827.5,524.8 L828.2,498.3 L828.9,498.9 L829.7,515.0 L830.4,514.6 L831.3,503.2 L832.3,503.7 L833.0,494.2 L833.7,471.0 L834.5,445.6 L835.3,445.0 L835.9,484.7 L836.4,454.2 L837.0,492.8 L837.5,487.7 L838.1,464.2 L838.6,458.7 L839.5,498.8 L840.5,509.2 L841.5,507.7 L842.4,525.5 L843.2,516.6 L844.1,481.9 L845.0,460.1 L846.0,454.6 L847.0,450.6 L847.9,427.3 L848.6,427.9 L849.4,453.9 L850.1,454.6 L851.2,440.8 L852.2,449.1 L852.9,475.7 L853.5,463.9 L854.2,503.7 L854.8,503.1 L855.5,460.5 L856.1,454.6 L856.8,467.7 L857.6,455.2 L858.3,465.5 L859.1,486.0 L859.9,490.1 L860.7,471.1 L861.5,465.5 L862.2,458.7 L863.0,429.0 L863.7,425.9 L864.4,451.9 L865.2,436.8 L865.9,479.1 L866.8,478.5 L867.8,468.2 L868.8,444.3 L869.7,443.7 L870.5,501.0 L871.4,591.0 L872.2,645.6 L873.0,645.0 L873.8,626.9 L874.6,634.7 L875.5,636.1 L876.5,632.6 L877.4,633.4 L878.3,633.6 L879.2,631.5 L880.1,632.0 L881.0,632.9 L881.9,631.2 L882.8,630.6 L883.7,633.8 L884.6,631.8 L885.5,634.7 L886.4,636.8 L887.4,634.0 L888.3,637.4 L889.2,636.8 L890.1,632.6 L891.0,632.0 L891.9,634.8 L892.8,632.6 L893.7,633.4 L894.6,636.3 L895.6,634.5 L896.5,637.4 L897.4,639.4 L898.3,637.7 L899.2,640.2 L899.9,640.9 L900.7,637.6 L901.4,641.5 L902.5,618.3 L903.3,617.1 L904.1,596.5 L904.8,608.2 L905.5,629.3 L906.1,610.5 L906.8,574.7 L907.9,541.9 L908.5,542.5 L909.0,612.3 L909.6,612.9 L910.2,582.1 L910.9,602.7 L911.5,558.3 L912.1,575.1 L912.8,615.6 L913.5,615.0 L914.3,602.1 L915.0,612.9 L916.0,603.1 L916.9,574.7 L917.8,556.1 L918.8,558.3 L919.5,559.0 L920.3,536.5 L921.0,541.9 L921.7,548.8 L922.5,528.9 L923.2,528.3 L923.8,554.9 L924.5,534.5 L925.1,563.8 L926.0,557.7 L927.0,541.9 L927.9,511.5 L928.7,503.7 L929.7,504.0 L930.6,479.1 L931.2,483.4 L931.9,523.5 L932.5,525.5 L933.3,484.9 L934.1,454.6 L935.2,425.9 L935.9,435.5 L936.7,426.5 L937.4,435.5 L938.1,449.2 L938.9,444.7 L939.6,460.0 L940.5,488.7 L941.5,490.1 L942.4,476.8 L943.3,494.7 L944.2,481.9 L945.1,476.8 L946.1,514.0 L947.0,514.6 L948.0,469.3 L948.9,454.6 L949.7,454.5 L950.5,431.4 L951.5,440.6 L952.4,476.4 L953.3,490.0 L954.3,492.8 L955.0,486.4 L955.8,503.1 L956.5,503.7 L957.2,487.4 L958.0,497.5 L958.7,471.0 L959.3,470.1 L960.0,491.6 L960.6,487.3 L961.5,470.2 L962.5,465.5 L963.3,462.5 L964.1,439.6 L965.1,460.4 L966.1,503.7 L966.8,526.7 L967.4,539.2 L968.1,512.6 L968.9,524.7 L969.6,503.7 L970.5,470.2 L971.5,457.3 L972.1,478.4 L972.8,468.7 L973.4,487.3 L974.1,485.0 L974.9,455.6 L975.6,457.3 L976.5,461.2 L977.4,449.7 L978.3,450.5 L979.2,452.1 L980.2,448.3 L981.1,449.1 L981.8,452.5 L982.4,446.4 L983.0,455.4 L983.7,505.2 L984.3,518.7 L985.1,480.3 L986.0,454.6 L987.0,458.5 L987.9,436.8 L988.8,443.1 L989.8,465.5 L990.6,478.5 L991.4,479.1 L992.1,459.8 L992.7,466.2 L993.4,453.2 L994.3,453.8 L995.3,465.5 L996.1,488.4 L996.9,481.9 L997.6,494.9 L998.3,518.7 L998.9,518.1 L999.6,445.8 L1000.2,438.2 L1000.9,473.7 L1001.7,447.8 L1002.4,492.8 L1003.3,482.3 L1004.3,457.3 L1005.2,451.1 L1006.2,450.5 L1007.0,476.8 L1007.8,476.4 L1008.8,477.6 L1009.7,503.7 L1010.3,502.7 L1011.0,451.1 L1011.6,450.5 L1012.5,517.4 L1013.3,591.0 L1014.4,648.4 L1015.1,647.8 L1015.9,626.3 L1016.6,632.0 L1017.5,633.0 L1018.4,629.9 L1019.3,629.3 L1020.2,633.3 L1021.1,629.9 L1022.0,632.0 L1022.7,640.3 L1023.5,637.4 L1024.2,648.4 L1025.2,643.2 L1026.1,632.0 L1027.0,632.6 L1027.9,638.4 L1028.8,632.0 L1029.5,634.0 L1030.3,648.1 L1031.0,651.1 L1032.0,640.2 L1032.9,640.2 L1033.8,641.9 L1034.8,634.6 L1035.7,637.4 L1036.8,636.4 L1037.8,632.0 L1038.5,632.6 L1039.3,636.2 L1040.0,634.7 L1040.9,633.0 L1041.8,638.0 L1042.7,637.4 L1043.6,638.0 L1044.6,645.0 L1045.5,645.6 L1046.5,634.5 L1047.6,632.0 L1048.4,635.8 L1049.2,632.6 L1050.1,634.5 L1050.9,632.0 L1051.8,632.7 L1052.7,639.3 L1053.6,640.2 L1054.3,636.5 L1055.1,639.6 L1055.8,637.4 L1056.8,631.5 L1057.7,632.0 L1058.7,632.6 L1059.7,623.8 L1060.5,600.1 L1061.3,591.0 L1062.2,592.6 L1063.2,563.8 L1063.9,548.0 L1064.6,547.4 L1065.2,572.4 L1065.9,569.2 L1066.6,579.2 L1067.3,599.2 L1068.0,578.6 L1068.7,547.4 L1069.3,547.1 L1070.0,571.1 L1070.6,569.2 L1071.4,538.8 L1072.2,531.0 L1073.3,495.5 L1074.1,487.6 L1074.9,468.2 L1075.8,444.8 L1076.8,442.3 L1077.5,467.5 L1078.2,481.9 L1078.9,496.8 L1079.6,522.8 L1080.5,522.2 L1081.5,498.3 L1082.3,474.1 L1083.1,468.2 L1084.0,478.0 L1085.0,465.5 L1086.0,441.2 L1086.9,434.1 L1087.8,462.3 L1088.6,471.0 L1089.7,490.1 L1090.4,481.9 L1091.2,488.3 L1091.9,479.1 L1093.0,462.9 L1094.0,465.5 L1094.7,464.2 L1095.4,440.9 L1096.1,428.0 L1096.8,425.9 L1097.4,441.0 L1098.1,432.6 L1098.7,454.6 L1099.3,459.1 L1100.0,440.9 L1100.7,448.5 L1101.4,481.9 L1102.3,505.2 L1103.3,514.6 L1103.9,499.0 L1104.4,509.3 L1105.0,495.5 L1106.0,498.7 L1106.9,528.3 L1107.8,541.3 L1108.8,541.9 L1109.6,528.9 L1110.4,536.5 L1111.0,581.7 L1111.7,558.5 L1112.3,591.0 L1113.0,553.8 L1113.7,495.5 L1114.4,455.5 L1115.1,440.9 L1116.0,462.3 L1117.0,454.6 L1118.0,458.8 L1119.1,473.7 L1120.1,473.1 L1121.1,468.2 L1121.8,453.7 L1122.4,449.1 L1123.2,479.6 L1124.1,481.9 L1125.0,492.8 L1126.0,514.6 L1126.7,495.6 L1127.3,465.5 L1128.4,435.5 L1129.2,436.1 L1130.1,454.6 L1131.2,478.1 L1132.2,481.9 L1133.2,487.6 L1134.2,517.4 L1135.2,507.5 L1136.1,481.9 L1136.9,447.8 L1137.7,439.6 L1138.7,456.6 L1139.6,462.8 L1140.5,471.1 L1141.5,492.8 L1142.2,505.2 L1143.0,496.0 L1143.7,503.7 L1144.4,511.3 L1145.2,499.9 L1145.9,511.9 L1146.8,505.9 L1147.8,481.9 L1148.5,471.1 L1149.3,480.4 L1150.0,471.0 L1151.0,452.3 L1151.9,450.5 L1152.6,492.3 L1153.3,509.2 L1154.2,510.2 L1155.2,528.3 L1155.9,537.2 L1156.7,532.1 L1157.4,544.7 L1158.5,546.8 L1159.5,547.4 L1160.5,513.8 L1161.5,509.2 L1162.2,502.1 L1162.8,465.5 L1163.5,455.2 L1164.3,467.6 L1165.0,454.6 L1165.6,455.2 L1166.3,492.4 L1166.9,495.5 L1167.8,467.0 L1168.8,454.6 L1169.5,455.3 L1170.3,430.6 L1171.0,430.0 L1171.7,467.5 L1172.4,476.4 L1173.1,485.5 L1173.7,509.2 L1174.4,479.5 L1175.1,432.8 L1175.7,435.5 L1176.4,479.1 L1177.0,481.9 L1177.8,452.5 L1178.6,440.9 L1179.6,446.3 L1180.6,434.1 L1181.2,443.7 L1181.9,465.5 L1182.6,486.7 L1183.3,487.3 L1183.9,443.6 L1184.6,468.5 L1185.2,430.0 L1185.7,430.6 L1186.3,466.0 L1186.8,465.5 L1187.4,448.4 L1188.1,457.6 L1188.7,434.1 L1189.7,434.7 L1190.7,440.9 L1191.8,447.6 L1192.8,446.4 L1193.5,452.7 L1194.2,468.2 L1195.2,496.1 L1196.1,503.7 L1196.8,501.4 L1197.5,520.1 L1198.0,519.5 L1198.6,474.3 L1199.1,473.7 L1199.7,492.6 L1200.4,474.9 L1201.0,495.5 L1201.7,494.9 L1202.5,476.9 L1203.2,481.9 L1204.2,482.7 L1205.1,457.3 L1205.7,465.3 L1206.4,501.2 L1207.0,509.2 L1207.8,485.7 L1208.7,487.3 L1209.7,473.0 L1210.6,430.0 L1211.2,430.6 L1211.9,452.4 L1212.5,446.4 L1213.2,438.7 L1214.0,454.8 L1214.7,440.9 L1215.3,449.8 L1216.0,481.9 L1216.7,500.8 L1217.4,505.1 L1218.1,485.8 L1218.9,493.4 L1219.6,468.2 L1220.5,447.1 L1221.5,446.4 L1222.5,449.1 L1223.4,436.8 L1224.1,437.4 L1224.9,444.8 L1225.6,443.7 L1226.3,438.9 L1227.1,457.6 L1227.8,454.6 L1228.8,455.9 L1229.7,473.7 L1230.3,496.4 L1231.0,498.3 L1231.7,456.1 L1232.5,482.9 L1233.2,440.9 L1234.2,441.5 L1235.1,468.2 L1235.8,493.6 L1236.5,501.0 L1237.2,451.1 L1238.0,481.9 L1238.7,435.5 L1239.3,436.1 L1240.0,492.4 L1240.6,487.3 L1241.2,466.4 L1241.9,487.0 L1242.5,465.5 L1243.0,456.4 L1243.6,524.9 L1244.1,525.5 L1244.8,479.6 L1245.4,501.9 L1246.1,451.9 L1246.8,464.5 L1247.4,503.7 L1248.1,500.1 L1248.9,469.1 L1249.6,465.5 L1250.5,463.5 L1251.5,449.1 L1252.2,437.4 L1253.0,454.2 L1253.7,436.8 L1254.3,438.3 L1255.0,461.9 L1255.6,465.5 L1256.3,453.9 L1257.1,459.8 L1257.8,446.4 L1258.8,444.3 L1259.7,443.7 L1260.6,449.6 L1261.5,444.3 L1262.4,446.4 L1263.3,460.8 L1264.3,462.8 L1265.0,468.1 L1265.8,494.9 L1266.5,495.5 L1267.2,478.6 L1268.0,492.7 L1268.7,481.9 L1269.7,470.9 L1270.6,465.5 L1271.5,467.8 L1272.5,457.1 L1273.4,460.0 L1274.3,465.6 L1275.3,453.2 L1276.1,462.5 L1276.9,481.9 L1277.6,505.4 L1278.3,517.4 L1279.2,498.8 L1280.2,492.8 L1280.9,496.2 L1281.7,490.7 L1282.4,490.1 L1283.3,503.0 L1284.3,503.7 L1285.2,500.9 L1286.2,520.1 L1286.9,514.4 L1287.7,488.0 L1288.4,481.9 L1289.5,479.9 L1290.5,462.8 L1291.5,463.4 L1292.5,471.0 L1293.2,504.2 L1293.8,511.9 L1294.5,487.7 L1295.3,498.6 L1296.0,471.0 L1296.5,468.8 L1297.1,527.4 L1297.6,528.3 L1298.4,490.8 L1299.3,468.2 L1300.0,468.8 L1300.8,427.9 L1301.5,427.3 L1302.1,453.7 L1302.8,441.5 L1303.4,471.0 L1304.3,470.4 L1305.3,457.3 L1306.0,455.2 L1306.8,460.4 L1307.5,454.6 L1308.2,459.4 L1309.0,484.0 L1309.7,484.6 L1310.3,449.2 L1311.0,466.9 L1311.6,438.2 L1312.5,438.8 L1313.4,447.6 L1314.3,440.9 L1315.2,438.8 L1316.1,450.4 L1317.0,440.9 L1318.0,449.8 L1318.9,479.1 L1320.0,498.3 L1320.7,494.5 L1321.5,471.7 L1322.2,465.5 L1323.2,464.4 L1324.1,446.4 L1325.0,441.5 L1325.9,449.3 L1326.8,440.9 L1327.7,441.5 L1328.7,451.0 L1329.6,449.1 L1330.2,451.8 L1330.9,462.8 L1331.6,460.2 L1332.4,442.2 L1333.1,440.9 L1334.0,438.5 L1335.0,427.3 L1336.0,427.9 L1336.9,431.4 L1337.6,440.0 L1338.4,428.8 L1339.1,438.2 L1339.8,463.5 L1340.6,450.7 L1341.3,468.2 L1342.2,496.3 L1343.2,503.7 L1344.2,509.8 L1345.1,528.3 L1345.9,518.0 L1346.7,481.9 L1347.4,460.9 L1348.1,449.1 L1348.8,455.1 L1349.5,434.1 L1350.5,436.4 L1351.4,454.6 L1352.3,456.7 L1353.3,457.3 L1354.0,444.6 L1354.8,447.2 L1355.5,432.8 L1356.2,433.4 L1357.0,455.8 L1357.7,460.0 L1358.7,454.9 L1359.6,465.5 L1360.2,464.9 L1360.9,445.6 L1361.5,445.0 L1362.2,458.8 L1363.0,445.6 L1363.7,454.6 L1364.3,479.5 L1365.0,488.7 L1365.7,458.5 L1366.4,454.6 L1367.1,460.5 L1367.9,452.5 L1368.6,451.9 L1369.2,459.2 L1369.9,452.2 L1370.5,464.1 L1371.5,456.9 L1372.4,440.9 L1373.2,434.7 L1374.0,434.1 L1374.6,444.1 L1375.3,441.0 L1375.9,449.1 L1376.9,448.5 L1377.9,446.4 L1379.0,441.0 L1380.0,440.9 L1380.7,439.3 L1381.5,429.8 L1382.2,427.3 L1383.2,432.5 L1384.1,432.8 L1385.0,429.3 L1386.0,431.4 L1386.7,442.6 L1387.5,434.7 L1388.2,443.7 L1388.9,468.0 L1389.6,468.2 L1390.3,496.6 L1391.0,536.5 L1391.7,578.1 L1392.3,602.0 L1393.2,580.1 L1394.2,577.4 L1395.1,565.1 L1395.9,522.8 L1396.6,481.9 L1397.2,468.2 L1397.9,470.3 L1398.6,449.1 L1399.3,463.4 L1400.0,487.3 L1400.6,488.7 L1401.3,460.5 L1401.9,465.5 L1402.6,486.3 L1403.2,492.8 L1403.9,458.9 L1404.6,446.4 L1405.1,476.3 L1405.7,470.2 L1406.2,492.8 L1407.1,492.2 L1407.9,471.0 L1408.6,449.1 L1409.4,460.5 L1410.1,445.0 L1410.8,459.0 L1411.4,495.5 L1412.1,516.9 L1412.8,522.8 L1413.6,493.7 L1414.4,481.9 L1415.2,465.0 L1416.1,427.3 L1416.9,438.6 L1417.7,465.5 L1418.7,464.9 L1419.6,465.5 L1420.5,456.0 L1421.5,454.6 L1422.2,454.6 L1423.0,437.9 L1423.7,435.5 L1424.4,440.4 L1425.2,436.1 L1425.9,440.9 L1426.8,440.2 L1427.8,435.5 L1428.8,430.6 L1429.7,430.0 L1430.6,443.8 L1431.4,449.1 L1432.3,445.7 L1433.3,450.5 L1434.2,454.5 L1435.1,449.7 L1436.0,449.1 L1436.7,471.1 L1437.4,481.9 L1438.1,494.9 L1438.7,520.1 L1439.4,536.6 L1440.1,541.9 L1440.8,534.2 L1441.6,541.3 L1442.3,536.5 L1443.0,532.5 L1443.8,535.8 L1444.5,531.0 L1445.3,517.7 L1446.1,520.1 L1446.9,517.4 L1447.7,498.3 L1448.6,484.5 L1449.4,481.9 L1449.9,499.0 L1450.5,495.6 L1451.0,511.9 L1451.8,497.4 L1452.6,471.0 L1453.4,446.9 L1454.3,440.9 L1455.0,445.6 L1455.8,440.2 L1456.5,439.6 L1457.3,464.4 L1458.1,471.0 L1458.9,477.2 L1459.7,503.7 L1460.6,503.1 L1461.4,492.8 L1462.3,470.7 L1463.3,471.0 L1464.2,472.2 L1465.2,446.4 L1465.7,448.6 L1466.3,489.7 L1466.8,492.8 L1467.4,468.8 L1468.1,473.3 L1468.7,454.6 L1469.4,456.6 L1470.0,500.4 L1470.7,501.0 L1471.5,468.0 L1472.3,465.5 L1473.0,469.1 L1473.7,446.4 L1474.3,447.0 L1475.0,489.5 L1475.6,490.1 L1476.4,470.2 L1477.2,460.0 L1478.0,451.1 L1478.8,425.9 L1479.7,448.3 L1480.5,487.3 L1481.3,511.2 L1482.1,511.9 L1482.9,495.2 L1483.8,490.1 L1484.6,484.4 L1485.4,461.4 L1486.2,475.2 L1487.0,509.2 L1487.8,536.0 L1488.7,536.5 L1489.8,552.8 L1490.6,509.3 L1491.4,492.8 L1492.1,474.0 L1492.8,432.8 L1493.8,451.0 L1494.7,481.9 L1495.4,489.5 L1496.2,473.0 L1496.9,487.3 L1497.8,490.9 L1498.8,490.1 L1499.8,489.0 L1500.7,495.5 L1501.2,494.9 L1501.8,476.6 L1502.3,473.7 L1503.2,493.6 L1504.2,490.1 L1504.9,487.1 L1505.6,514.6 L1506.3,512.6 L1507.1,445.6 L1507.8,445.0 L1508.4,496.2 L1509.1,520.1 L1509.7,507.9 L1510.4,524.0 L1511.0,503.7 L1511.6,499.6 L1512.1,524.9 L1512.7,525.5 L1513.5,498.2 L1514.3,481.9 L1515.0,485.5 L1515.8,471.6 L1516.5,471.0 L1517.2,481.2 L1518.0,473.9 L1518.7,481.9 L1519.3,492.0 L1520.0,468.8 L1520.6,468.2 L1521.2,498.1 L1521.9,490.2 L1522.5,514.6 L1523.3,510.6 L1524.1,476.4 L1525.1,449.9 L1526.1,435.5 L1526.7,483.5 L1527.4,455.1 L1528.0,495.5 L1528.7,494.9 L1529.5,429.3 L1530.2,428.7 L1531.2,442.3 L1532.3,440.9 L1533.4,509.2 L1534.2,505.7 L1535.1,531.0 L1536.0,530.4 L1537.0,528.3 L1537.9,527.5 L1538.8,528.3 L1539.7,526.9 L1540.6,527.5 L1541.5,529.0 L1542.4,528.3 L1543.3,527.9 L1544.3,531.0 L1545.0,538.2 L1545.8,536.5 L1546.5,541.9 L1547.2,544.1 L1548.0,530.2 L1548.7,544.7 L1549.7,519.9 L1550.6,481.9 L1551.3,459.1 L1552.0,457.3 L1552.7,475.4 L1553.5,475.2 L1554.2,492.8 L1554.8,489.4 L1555.5,457.9 L1556.1,462.8 L1557.0,484.2 L1558.0,476.4 L1558.8,475.6 L1559.6,498.3 L1560.5,478.9 L1561.5,443.7 L1562.2,426.5 L1563.0,444.4 L1563.7,425.9 L1564.7,433.0 L1565.6,454.6 L1566.3,463.9 L1567.1,452.1 L1567.8,462.8 L1568.8,467.7 L1569.7,465.5 L1570.4,477.8 L1571.1,503.7 L1571.9,490.2 L1572.7,457.3 L1573.5,450.5 L1574.4,463.9 L1575.2,454.6 L1576.2,441.5 L1577.1,440.9 L1577.9,467.9 L1578.7,481.9 L1579.7,490.8 L1580.6,520.1 L1581.6,531.6 L1582.6,531.0 L1583.7,525.5 L1584.7,535.1 L1585.4,527.6 L1586.1,503.7 L1586.8,461.5 L1587.5,442.3 L1588.3,467.1 L1589.1,481.9 L1590.2,520.1 L1591.0,498.7 L1591.8,501.0 L1592.7,479.2 L1593.5,445.0 L1594.3,445.6 L1595.1,457.3 L1596.0,479.9 L1597.0,481.9 L1597.7,485.3 L1598.4,506.4 L1599.1,515.7 L1599.9,506.7 L1600.6,517.4 L1601.5,522.2 L1602.5,522.8 L1603.3,481.9 L1603.8,427.3 L1604.5,345.6 L1605.3,319.2 L1606.1,318.3 L1607.2,332.0 L1608.3,291.0 L1609.2,295.6 L1610.0,274.7 L1610.8,263.8 L1611.6,263.8 L1612.5,267.3 L1613.5,254.2 L1614.2,254.8 L1614.9,269.2 L1615.6,268.6 L1616.4,257.1 L1617.1,256.9 L1618.0,260.3 L1619.0,258.3 L1620.0,258.8 L1620.9,263.8 L1621.6,263.2 L1622.4,257.5 L1623.1,256.9 L1623.8,263.2 L1624.6,255.0 L1625.3,261.0 L1625.9,267.7 L1626.6,239.8 L1627.2,239.2 L1627.8,263.5 L1628.5,277.4 L1629.2,270.4 L1630.0,293.2 L1630.7,293.8 L1631.7,267.9 L1632.6,263.8 L1633.5,265.6 L1634.5,252.8 L1635.2,250.7 L1636.0,254.6 L1636.7,250.1 L1637.3,247.4 L1637.8,265.0 L1638.4,266.5 L1639.2,246.3 L1640.0,236.5 L1640.7,242.3 L1641.5,226.1 L1642.2,225.5 L1642.9,244.2 L1643.7,240.5 L1644.4,255.6 L1645.3,255.0 L1646.3,247.4 L1647.2,238.4 L1648.2,237.8 L1648.9,249.5 L1649.7,240.4 L1650.4,252.8 L1651.3,280.1 L1652.3,289.7 L1653.2,261.4 L1654.2,247.4 L1654.9,245.0 L1655.7,224.8 L1656.4,224.2 L1657.1,248.8 L1657.9,231.5 L1658.6,252.8 L1659.5,270.0 L1660.5,270.6 L1661.3,247.1 L1662.1,241.9 L1662.8,238.9 L1663.5,209.2 L1664.6,190.1 L1665.4,190.7 L1666.2,198.3 L1667.2,207.1 L1668.1,206.4 L1669.0,207.0 L1670.0,214.6 L1670.8,219.0 L1671.7,209.2 L1672.3,213.8 L1673.0,228.3 L1674.1,261.0 L1674.9,270.6" fill="none" stroke="#e2404a" stroke-width="2.9" stroke-linejoin="round" stroke-linecap="round"/>
<rect x="210.6" y="37.4" width="1488.8000000000002" height="813.0" fill="none" stroke="#101010" stroke-width="3"/>
<path d="M210.6,162.566 h23 M210.6,287.73199999999997 h23 M210.6,412.89799999999997 h23 M210.6,538.064 h23 M210.6,663.23 h23 M210.6,788.396 h23 M304.62,850.4 v-21 M399.24,850.4 v-21 M493.86,850.4 v-21 M588.48,850.4 v-21 M683.10,850.4 v-21 M777.72,850.4 v-21 M872.34,850.4 v-21 M966.96,850.4 v-21 M1061.58,850.4 v-21 M1156.20,850.4 v-21 M1250.82,850.4 v-21 M1345.44,850.4 v-21 M1440.06,850.4 v-21 M1534.68,850.4 v-21 M1629.30,850.4 v-21" fill="none" stroke="#101010" stroke-width="3"/>
<g font-family='"Liberation Serif", "Noto Serif CJK SC", serif' font-size="64.4" fill="#161616">
<text x="187" y="52.1" text-anchor="end" textLength="95.2" lengthAdjust="spacingAndGlyphs">260</text>
<text x="187" y="177.3" text-anchor="end" textLength="95.2" lengthAdjust="spacingAndGlyphs">240</text>
<text x="187" y="302.4" text-anchor="end" textLength="95.2" lengthAdjust="spacingAndGlyphs">220</text>
<text x="187" y="427.6" text-anchor="end" textLength="95.2" lengthAdjust="spacingAndGlyphs">200</text>
<text x="187" y="552.8" text-anchor="end" textLength="95.2" lengthAdjust="spacingAndGlyphs">180</text>
<text x="187" y="677.9" text-anchor="end" textLength="95.2" lengthAdjust="spacingAndGlyphs">160</text>
<text x="187" y="803.1" text-anchor="end" textLength="95.2" lengthAdjust="spacingAndGlyphs">140</text>
<text x="212.3" y="926.4" text-anchor="middle" textLength="32.2" lengthAdjust="spacingAndGlyphs">1</text>
<text x="306.9" y="926.4" text-anchor="middle" textLength="32.2" lengthAdjust="spacingAndGlyphs">3</text>
<text x="401.5" y="926.4" text-anchor="middle" textLength="32.2" lengthAdjust="spacingAndGlyphs">5</text>
<text x="496.2" y="926.4" text-anchor="middle" textLength="32.2" lengthAdjust="spacingAndGlyphs">7</text>
<text x="590.8" y="926.4" text-anchor="middle" textLength="32.2" lengthAdjust="spacingAndGlyphs">9</text>
<text x="686.3" y="926.4" text-anchor="middle" textLength="63.6" lengthAdjust="spacingAndGlyphs">11</text>
<text x="780.9" y="926.4" text-anchor="middle" textLength="63.6" lengthAdjust="spacingAndGlyphs">13</text>
<text x="875.5" y="926.4" text-anchor="middle" textLength="63.6" lengthAdjust="spacingAndGlyphs">15</text>
<text x="970.2" y="926.4" text-anchor="middle" textLength="63.6" lengthAdjust="spacingAndGlyphs">17</text>
<text x="1064.8" y="926.4" text-anchor="middle" textLength="63.6" lengthAdjust="spacingAndGlyphs">19</text>
<text x="1159.4" y="926.4" text-anchor="middle" textLength="63.6" lengthAdjust="spacingAndGlyphs">21</text>
<text x="1254.0" y="926.4" text-anchor="middle" textLength="63.6" lengthAdjust="spacingAndGlyphs">23</text>
<text x="1348.6" y="926.4" text-anchor="middle" textLength="63.6" lengthAdjust="spacingAndGlyphs">25</text>
<text x="1443.3" y="926.4" text-anchor="middle" textLength="63.6" lengthAdjust="spacingAndGlyphs">27</text>
<text x="1537.9" y="926.4" text-anchor="middle" textLength="63.6" lengthAdjust="spacingAndGlyphs">29</text>
<text x="1632.5" y="926.4" text-anchor="middle" textLength="63.6" lengthAdjust="spacingAndGlyphs">31</text>
</g>
<path d="M605,80.5 H719" stroke="#b3b1d4" stroke-width="2.7" fill="none"/>
<path d="M951,80.5 H1064" stroke="#d34a54" stroke-width="2.7" fill="none"/>
<g font-family='"Liberation Serif", "Noto Serif CJK SC", serif' font-size="62" font-weight="600" fill="#161616">
<text x="739" y="100.8">实际值</text>
<text x="1087" y="100.8">预测值</text>
<text x="867.2" y="1010.9" font-size="61" letter-spacing="1.9">时间<tspan dx="-2.9" dy="-4.2" font-size="64.4" font-weight="400" letter-spacing="0">/d</tspan></text>
<text transform="translate(54.8,683.4) rotate(-90)" font-size="59.6" letter-spacing="3">预测蒸汽流量<tspan dy="-2.6" dx="-2.4" font-size="63.4" font-weight="400" letter-spacing="0">/(t/h)</tspan></text>
</g>
</svg>
</body>
</html>
